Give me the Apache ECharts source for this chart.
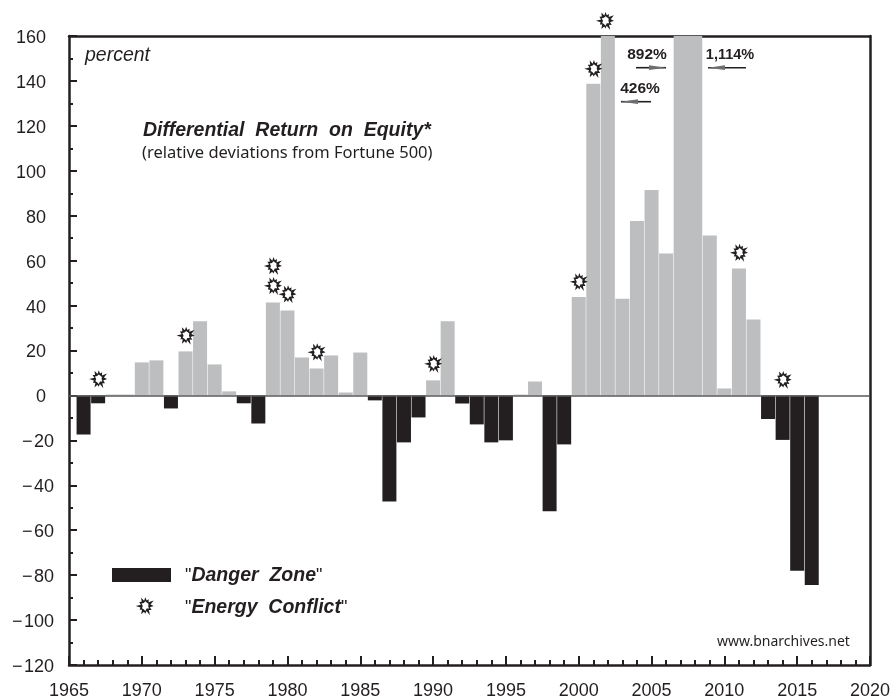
<!DOCTYPE html>
<html>
  <head>
    <meta charset="utf-8" />
    <title>Differential Return on Equity</title>
    <script src="https://cdn.jsdelivr.net/npm/echarts@6/dist/echarts.min.js"></script>
    <style>
      html, body { margin: 0; padding: 0; background: #fff; }
    </style>
  </head>
  <body>
    <div id="main" style="width: 892px;height:698px;"></div>
    <script type="text/javascript">
      // values, percent
      var years = [1966,1967,1968,1969,1970,1971,1972,1973,1974,1975,1976,1977,1978,1979,1980,1981,1982,1983,1984,1985,
                   1986,1987,1988,1989,1990,1991,1992,1993,1994,1995,1996,1997,1998,1999,2000,2001,2002,2003,2004,2005,
                   2006,2007,2008,2009,2010,2011,2012,2013,2014,2015,2016];
      var returns = [-17.4,-3.5,0.4,0.4,14.7,15.6,-5.8,19.6,33,13.8,1.8,-3.5,-12.5,41.4,37.8,16.9,12,17.8,1.3,19.1,
                     -2.2,-47.2,-20.9,-9.8,6.7,33,-3.6,-12.9,-20.9,-20,0.4,6.2,-51.6,-21.8,43.8,138.7,426,43,77.7,91.5,
                     63.2,892,1114,71.2,3.1,56.5,33.8,-10.5,-19.8,-78,-84.4];
      // energy conflict markers, [year, height on the axis]
      var conflictYears = [1967,1973,1979,1979,1980,1982,1990,2000,2001,2001.8,2011,2014];
      var conflictLevels = [7.2,26.6,57.6,48.7,45,19.2,14,50.5,145.3,166.7,63.5,6.9];
      // the key's own marker sits inside the plot
      var keyMarker = [1970.2, -93.8];
      // these two run off the top and read as one block
      var joinedYears = [2007, 2008];

      var ink = '#231f20';
      var barGray = '#bcbec0';
      var tickFont = '"Liberation Sans", Arial, sans-serif';
      var humanist = '"Noto Sans", "Open Sans", sans-serif';

      // spiky burst with a hole in the middle
      function burstPath() {
        var outer = [1,.56,.86,.6,1.1,.54,.8,.62,1,.56,.78,.6,1.14,.54,.84,.62,1,.56,.92,.6,.82,.54,1.14,.64];
        var inner = [.34,.5,.3,.52,.38,.46,.3,.52,.36,.48,.4,.44];
        var d = '', i, a;
        for (i = 0; i < outer.length; i++) {
          a = i / outer.length * Math.PI * 2;
          d += (i ? 'L' : 'M') + (50 + 50 * outer[i] * Math.cos(a)).toFixed(1) + ' ' + (50 + 50 * outer[i] * Math.sin(a)).toFixed(1);
        }
        d += 'Z';
        for (i = inner.length - 1; i >= 0; i--) {
          a = i / inner.length * Math.PI * 2;
          d += (i === inner.length - 1 ? 'M' : 'L') + (50 + 50 * inner[i] * Math.cos(a)).toFixed(1) + ' ' + (50 + 50 * inner[i] * Math.sin(a)).toFixed(1);
        }
        return d + 'Z';
      }
      var burst = burstPath();

      function arrow(x1, x2, y) {
        var dir = x2 > x1 ? -1 : 1;
        return [
          {type: 'line', shape: {x1: x1, y1: y, x2: x2, y2: y}, style: {stroke: ink, lineWidth: 1.6}, z: 20},
          {type: 'polygon', shape: {points: [[x2, y], [x2 + dir * 17, y - 2.4], [x2 + dir * 17, y + 2.4]]}, style: {fill: '#6d6e71'}, z: 21}
        ];
      }
      function label(x, y, text, style) {
        return {type: 'text', x: x, y: y, z: 22, style: Object.assign({text: text, fill: ink, verticalAlign: 'middle'}, style)};
      }
      var boldNum = {font: 'bold 15.5px ' + tickFont, align: 'center'};
      var legendRich = {
        q: {font: '18px ' + tickFont, fill: ink},
        b: {font: 'italic bold 19.5px ' + tickFont, fill: ink}
      };

      var myChart = echarts.init(document.getElementById('main'));
      var option = {
        animation: false,
        backgroundColor: '#fff',
        // labels sit close to the window edge, keep the plot where it is
        grid: {left: 69, right: 22, top: 36, bottom: 33, outerBoundsMode: 'none'},
        xAxis: [{
          type: 'value', min: 1965, max: 2020, interval: 5, position: 'bottom',
          axisLine: {onZero: false, lineStyle: {color: ink, width: 2.5}},
          axisTick: {inside: true, length: 9, lineStyle: {color: ink, width: 2}},
          minorTick: {show: true, splitNumber: 5, length: 5, lineStyle: {color: ink, width: 2}},
          splitLine: {show: false},
          axisLabel: {color: ink, fontFamily: tickFont, fontSize: 18, margin: 17, formatter: function (v) { return String(v); }}
        }, {
          type: 'value', min: 1965, max: 2020, position: 'top',
          axisLine: {show: true, onZero: false, lineStyle: {color: ink, width: 2.5}},
          axisTick: {show: false}, axisLabel: {show: false}, splitLine: {show: false}
        }],
        yAxis: [{
          type: 'value', min: -120, max: 160, interval: 20, position: 'left',
          axisLine: {show: true, onZero: false, lineStyle: {color: ink, width: 2.5}},
          axisTick: {show: true, inside: true, length: 8, lineStyle: {color: ink, width: 2}},
          minorTick: {show: true, splitNumber: 2, length: 4, lineStyle: {color: ink, width: 2}},
          splitLine: {show: false},
          axisLabel: {
            margin: 15,
            formatter: function (v) {
              return v < 0 ? '{neg|\u2212\u200a' + Math.abs(v) + '}' : '{pos|' + v + '}';
            },
            rich: {
              neg: {color: ink, fontFamily: tickFont, fontSize: 18, padding: [4, 0, 0, 0]},
              pos: {color: ink, fontFamily: tickFont, fontSize: 18, padding: [4, 8, 0, 0]}
            }
          }
        }, {
          type: 'value', min: -120, max: 160, position: 'right',
          axisLine: {show: true, onZero: false, lineStyle: {color: ink, width: 2.5}},
          axisTick: {show: false}, axisLabel: {show: false}, splitLine: {show: false}
        }],
        series: [{
          type: 'bar',
          name: 'Differential ROE',
          barWidth: 14,
          data: years.map(function (y, i) { return [y, returns[i]]; }),
          itemStyle: {color: function (p) { return p.value[1] < 0 ? ink : barGray; }},
          markLine: {
            silent: true, symbol: 'none', label: {show: false},
            lineStyle: {color: '#58595b', width: 1.5, type: 'solid'},
            data: [{yAxis: 0}]
          },
          // closes the seam between the two off-scale bars
          markArea: {
            silent: true,
            itemStyle: {color: barGray, opacity: 1},
            data: [[{coord: [joinedYears[0], 0]}, {coord: [joinedYears[1], 160]}]]
          }
        }, {
          type: 'scatter',
          name: 'Energy Conflict',
          clip: false,
          symbol: 'path://' + burst,
          symbolSize: 18,
          itemStyle: {color: ink, opacity: 1},
          data: conflictYears.map(function (y, i) { return [y, conflictLevels[i]]; }).concat([keyMarker]),
          z: 5
        }],
        graphic: {elements: [
          label(85, 56, 'percent', {font: 'italic 19.5px ' + tickFont}),
          label(143, 131, 'Differential  Return  on  Equity*', {font: 'italic bold 19.5px ' + tickFont}),
          label(142, 153, '(relative deviations from Fortune 500)', {font: '16.5px ' + humanist}),
          label(647, 55, '892%', boldNum),
          label(730, 55, '1,114%', {font: 'bold 14.5px ' + tickFont, align: 'center'}),
          label(640, 89, '426%', boldNum)
        ].concat(arrow(636, 666, 67.7), arrow(746, 708, 67.7), arrow(651, 621, 101.7), [
          {type: 'rect', shape: {x: 112, y: 568, width: 59, height: 14}, style: {fill: ink}, z: 20},
          {type: 'text', x: 185, y: 576, z: 22, style: {text: '{q|"}{b|Danger  Zone}{q|"}', rich: legendRich, verticalAlign: 'middle'}},
          {type: 'text', x: 185, y: 608, z: 22, style: {text: '{q|"}{b|Energy  Conflict}{q|"}', rich: legendRich, verticalAlign: 'middle'}},
          label(717, 642, 'www.bnarchives.net', {font: '14px ' + humanist})
        ])}
      };
      myChart.setOption(option);
    </script>
  </body>
</html>
